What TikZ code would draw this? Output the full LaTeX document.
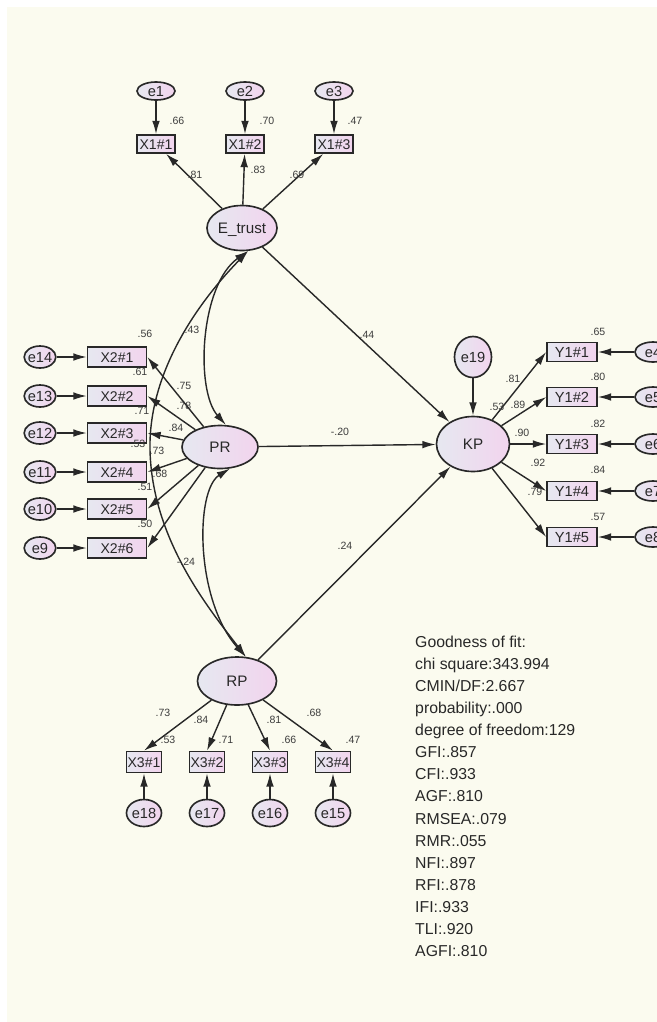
\documentclass[tikz,border=0pt]{standalone}
\usepackage{fontspec}
\setmainfont{Liberation Sans}
\usetikzlibrary{shapes.geometric,arrows.meta}
\definecolor{bg}{RGB}{251,251,239}
\definecolor{lc}{RGB}{230,232,240}
\definecolor{rc}{RGB}{242,212,238}
\definecolor{ink}{RGB}{40,40,40}
\definecolor{numc}{RGB}{60,60,60}
\newcommand\zb[1]{\smash{\makebox[0pt]{\raisebox{-0.36em}{#1}}}}
\begin{document}
\begin{tikzpicture}[x=0.03cm,y=-0.03cm,
  lat/.style={ellipse,draw=ink,line width=1.4pt,left color=lc,right color=rc,inner sep=0pt,font=\fontsize{13}{13}\selectfont,text=ink},
  err/.style={ellipse,draw=ink,line width=1.4pt,left color=lc,right color=rc,inner sep=0pt,font=\fontsize{12.5}{12.5}\selectfont,text=ink},
  obs/.style={rectangle,draw=ink,line width=1.4pt,left color=lc,right color=rc,inner sep=0pt,font=\fontsize{12}{12}\selectfont,text=ink},
  num/.style={font=\fontsize{9}{9}\selectfont,text=numc,inner sep=0pt},
  fitline/.style={font=\fontsize{13.5}{13.5}\selectfont,text=ink,inner sep=0pt,anchor=base west},
  arr/.style={-{Latex[length=0.4cm,width=0.23cm]},line width=1.2pt,draw=ink},
  cov/.style={{Latex[length=0.4cm,width=0.23cm]}-{Latex[length=0.4cm,width=0.23cm]},line width=1.2pt,draw=ink},
]
\useasboundingbox (0,0) rectangle (657,1022);
\fill[white] (0,0) rectangle (657,1022);
\fill[bg] (7,7) rectangle (657,1022);

% latent variables
\node[lat,minimum width=2.1cm,minimum height=1.35cm] (E) at (242,228) {\zb{E\_trust}};
\node[lat,minimum width=2.28cm,minimum height=1.29cm] (PR) at (220,447) {\zb{PR}};
\node[lat,minimum width=2.19cm,minimum height=1.65cm] (KP) at (473,444) {\zb{KP}};
\node[lat,minimum width=2.37cm,minimum height=1.44cm] (RP) at (237,681) {\zb{RP}};
\node[err,minimum width=1.11cm,minimum height=1.23cm] (e19) at (473,357) {\zb{e19}};

% top indicators
\foreach \n/\x in {1/156,2/245,3/334}{
  \node[err,minimum width=1.14cm,minimum height=0.54cm] (e\n) at (\x,91) {\zb{e\n}};
  \node[obs,minimum width=1.14cm,minimum height=0.54cm] (X1\n) at (\x,144) {\zb{X1\#\n}};
  \draw[arr] (e\n) -- (X1\n);
  \draw[arr] (E) -- (X1\n);
}

% left indicators
\foreach \n/\e/\y in {1/14/357,2/13/396,3/12/433,4/11/472,5/10/509,6/9/548}{
  \node[err,minimum width=0.95cm,minimum height=0.66cm] (e\e) at (40,\y) {\zb{e\e}};
  \node[obs,minimum width=1.77cm,minimum height=0.6cm] (X2\n) at (117,\y) {\zb{X2\#\n}};
  \draw[arr] (e\e) -- (X2\n);
  \draw[arr] (PR) -- (X2\n.east);
}

% right indicators
\foreach \n/\e/\y in {1/4/352,2/5/397,3/6/444,4/7/491,5/8/537}{
  \node[obs,minimum width=1.5cm,minimum height=0.57cm,font=\fontsize{12.5}{12.5}\selectfont] (Y1\n) at (572,\y) {\zb{Y1\#\n}};
  \node[err,minimum width=1.08cm,minimum height=0.6cm] (e\e) at (653,\y) {\zb{e\e}};
  \draw[arr] (e\e) -- (Y1\n);
  \draw[arr] (KP) -- (Y1\n.west);
}

% bottom indicators
\foreach \n/\e/\x in {1/18/144,2/17/207,3/16/270,4/15/333}{
  \node[obs,minimum width=1.05cm,minimum height=0.63cm] (X3\n) at (\x,762) {\zb{X3\#\n}};
  \node[err,minimum width=1.05cm,minimum height=0.81cm] (e\e) at (\x,813) {\zb{e\e}};
  \draw[arr] (e\e) -- (X3\n);
  \draw[arr] (RP) -- (X3\n.north);
}

% structural paths
\draw[arr] (E) -- (KP);
\draw[arr] (PR) -- (KP);
\draw[arr] (RP) -- (KP);
\draw[arr] (e19) -- (KP);

% covariances
\draw[cov] (E.285) .. controls (200,285) and (195,390) .. (PR.75);
\draw[cov] (E.285) .. controls (215,285) and (148,360) .. (150,450) .. controls (152,540) and (210,610) .. (RP.70);
\draw[cov] (PR.295) .. controls (195,490) and (195,600) .. (RP.70);

% numbers: top
\node[num] (n1) at (177,121) {.66};
\node[num] (n2) at (267,121) {.70};
\node[num] (n3) at (355,121) {.47};
\node[num] (n4) at (195,175) {.81};
\node[num] (n5) at (258,170) {.83};
\node[num] (n6) at (297,175) {.69};
% left
\node[num] (n7) at (145,334) {.56};
\node[num] (n8) at (184,386) {.75};
\node[num] (n9) at (140,372) {.61};
\node[num] (n10) at (184,406) {.78};
\node[num] (n11) at (142,411) {.71};
\node[num] (n12) at (176,428) {.84};
\node[num] (n13) at (138,444) {.53};
\node[num] (n14) at (157,451) {.73};
\node[num] (n15) at (160,474) {.68};
\node[num] (n16) at (145,487) {.51};
\node[num] (n17) at (145,524) {.50};
% right
\node[num] (n18) at (598,332) {.65};
\node[num] (n19) at (598,377) {.80};
\node[num] (n20) at (598,424) {.82};
\node[num] (n21) at (598,470) {.84};
\node[num] (n22) at (598,517) {.57};
\node[num] (n23) at (513,379) {.81};
\node[num] (n24) at (518,405) {.89};
\node[num] (n25) at (522,433) {.90};
\node[num] (n26) at (538,463) {.92};
\node[num] (n27) at (535,492) {.79};
\node[num] (n28) at (497,407) {.53};
% bottom
\node[num] (n29) at (163,713) {.73};
\node[num] (n30) at (201,720) {.84};
\node[num] (n31) at (274,720) {.81};
\node[num] (n32) at (314,713) {.68};
\node[num] (n33) at (168,740) {.53};
\node[num] (n34) at (226,740) {.71};
\node[num] (n35) at (289,740) {.66};
\node[num] (n36) at (353,740) {.47};
% structural / covariance labels
\node[num] (n37) at (367,335) {.44};
\node[num] (n38) at (340,432) {-.20};
\node[num] (n39) at (345,546) {.24};
\node[num] (n40) at (192,330) {.43};
\node[num] (n41) at (186,562) {-.24};

% fit indices
\foreach \t [count=\i] in {Goodness of fit:,chi square:343.994,CMIN/DF:2.667,probability:.000,degree of freedom:129,GFI:.857,CFI:.933,AGF:.810,RMSEA:.079,RMR:.055,NFI:.897,RFI:.878,IFI:.933,TLI:.920,AGFI:.810}{
  \node[fitline] (fit\i) at (415,{647+(\i-1)*22.14}) {\t};
}
\end{tikzpicture}
\end{document}
